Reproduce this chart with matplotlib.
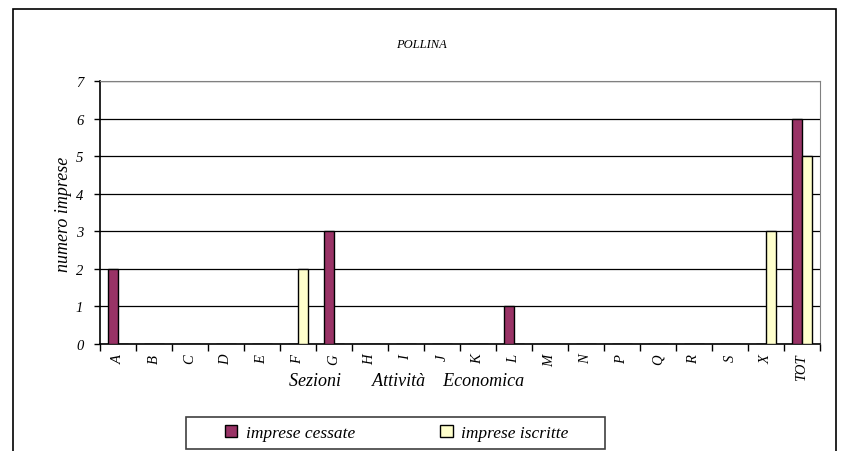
import matplotlib.pyplot as plt
import numpy as np
from matplotlib import patches

plt.rcParams['font.family'] = ['Liberation Serif', 'DejaVu Serif']
plt.rcParams['font.style'] = 'italic'

CATEGORIES = ['A', 'B', 'C', 'D', 'E', 'F', 'G', 'H', 'I', 'J', 'K', 'L',
              'M', 'N', 'P', 'Q', 'R', 'S', 'X', 'TOT']
CESSATE = [2, 0, 0, 0, 0, 0, 3, 0, 0, 0, 0, 1, 0, 0, 0, 0, 0, 0, 0, 6]
ISCRITTE = [0, 0, 0, 0, 0, 2, 0, 0, 0, 0, 0, 0, 0, 0, 0, 0, 0, 0, 3, 5]
Y_TICKS = [0, 1, 2, 3, 4, 5, 6, 7]

COL_CESSATE = '#993366'
COL_ISCRITTE = '#FFFFCC'

W, H = 841, 452
fig = plt.figure(figsize=(W / 100, H / 100), dpi=100)

# outer chart frame (bottom edge falls outside the picture)
fig.patches.append(patches.Rectangle(
    (13 / W, -0.05), 823 / W, (H - 10) / H + 0.05, transform=fig.transFigure,
    fill=False, edgecolor='black', linewidth=1.2))

ax = fig.add_axes([100 / W, (H - 345) / H, 720 / W, 263 / H])

x = np.arange(len(CATEGORIES))
bw = 1 / 3.5
ax.bar(x - bw / 2, CESSATE, bw, color=COL_CESSATE, edgecolor='black',
       linewidth=1, label='imprese cessate', zorder=3)
ax.bar(x + bw / 2, ISCRITTE, bw, color=COL_ISCRITTE, edgecolor='black',
       linewidth=1, label='imprese iscritte', zorder=3)

ax.set_xlim(-0.5, len(CATEGORIES) - 0.5)
ax.set_ylim(0, 7)
ax.set_yticks(Y_TICKS)
ax.set_yticklabels([str(v) for v in Y_TICKS], fontsize=10.5)
ax.yaxis.grid(True, color='black', linewidth=0.9, zorder=0)
ax.set_axisbelow(True)

ax.set_xticks(x)
ax.set_xticklabels(CATEGORIES, rotation=90, fontsize=10.5)
ax.tick_params(axis='x', which='major', length=0, pad=7)
ax.set_xticks(np.arange(-0.5, len(CATEGORIES)), minor=True)
ax.tick_params(axis='x', which='minor', length=5, width=1, direction='out')
ax.tick_params(axis='y', length=4, width=1, direction='out', pad=8)

ax.spines['top'].set_color('#808080')
ax.spines['right'].set_color('#808080')
ax.spines['left'].set_linewidth(1.2)
ax.spines['bottom'].set_linewidth(1.2)

fig.text(64 / W, 1 - 214 / H, 'numero imprese', fontsize=13, rotation=90,
         ha='center', va='center')

fig.text(421 / W, 1 - 45 / H, 'POLLINA', fontsize=9, ha='center', va='center')
fig.text(407 / W, 1 - 381 / H, 'Sezioni       Attività    Economica',
         fontsize=13, ha='center', va='center')

# legend box drawn separately so the wide side padding matches
fig.patches.append(patches.Rectangle(
    (186 / W, 1 - 450 / H), 419 / W, 32 / H, transform=fig.transFigure,
    fill=False, edgecolor='#404040', linewidth=1.2))
fig.legend(loc='center', bbox_to_anchor=(397 / W, 1 - 434 / H), ncol=2,
           fontsize=12.5, frameon=False, handlelength=0.7, handleheight=0.7,
           handletextpad=0.5, columnspacing=4.9, borderpad=0, borderaxespad=0)

fig.savefig('out.png', dpi=100)
